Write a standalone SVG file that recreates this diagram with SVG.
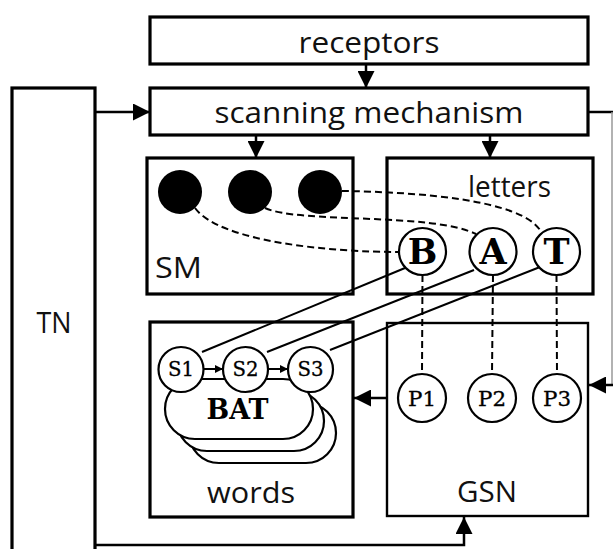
<svg xmlns="http://www.w3.org/2000/svg" width="613" height="549" viewBox="0 0 613 549">
<style>
.box{fill:#fff;stroke:#000;stroke-width:3.2}
.thin{fill:#fff;stroke:#000;stroke-width:2.4}
.lbl{font-family:"Open Sans","Liberation Sans",sans-serif;font-size:29px;fill:#111}
.big{font-family:"DejaVu Serif","Liberation Serif",serif;font-weight:bold;fill:#000}
.mono{font-family:"DejaVu Serif","Liberation Serif",serif;font-size:20px;fill:#000;stroke:#000;stroke-width:0.3}
.circ{fill:#fff;stroke:#000;stroke-width:2.2}
.conn{fill:none;stroke:#000;stroke-width:2.5}
.dash{fill:none;stroke:#000;stroke-width:2;stroke-dasharray:7 4}
.wire{fill:none;stroke:#000;stroke-width:2}
</style>
<defs>
<marker id="ah" viewBox="0 0 10 10" refX="10" refY="5" markerUnits="userSpaceOnUse" markerWidth="17" markerHeight="17" orient="auto">
<path d="M0,0 L10,5 L0,10 z" fill="#000"/>
</marker>
<marker id="sah" viewBox="0 0 10 10" refX="10" refY="5" markerUnits="userSpaceOnUse" markerWidth="8" markerHeight="8" orient="auto">
<path d="M0,0 L10,5 L0,10 z" fill="#000"/>
</marker>
</defs>

<g id="receptors">
<rect class="box" x="150" y="17" width="438" height="47"/>
<text class="lbl" x="369" y="53" text-anchor="middle" textLength="141" lengthAdjust="spacingAndGlyphs">receptors</text>
</g>
<g id="scanning">
<rect class="box" x="150" y="88" width="438" height="47"/>
<text class="lbl" x="369" y="123" text-anchor="middle" textLength="309" lengthAdjust="spacingAndGlyphs">scanning mechanism</text>
</g>
<g id="TN">
<rect class="box" x="12" y="88" width="83" height="470"/>
<text class="lbl" x="54" y="333" text-anchor="middle" textLength="35" lengthAdjust="spacingAndGlyphs">TN</text>
</g>
<g id="SM">
<rect class="box" x="147" y="158" width="206" height="136"/>
<text class="lbl" x="155" y="278" textLength="47" lengthAdjust="spacingAndGlyphs">SM</text>
<circle cx="180" cy="192" r="22" fill="#000"/>
<circle cx="250" cy="192" r="22" fill="#000"/>
<circle cx="320" cy="192" r="22" fill="#000"/>
</g>
<g id="letters">
<rect class="box" x="387" y="158" width="206" height="136"/>
<text class="lbl" x="468" y="197" textLength="83" lengthAdjust="spacingAndGlyphs">letters</text>
</g>
<g id="words">
<rect class="box" x="150" y="322" width="203" height="195"/>
<text class="lbl" x="251" y="503" text-anchor="middle" textLength="88" lengthAdjust="spacingAndGlyphs">words</text>
<rect class="circ" x="189" y="403" width="147" height="60" rx="30"/>
<rect class="circ" x="177" y="391" width="147" height="60" rx="30"/>
<rect class="circ" x="165" y="379" width="148" height="60" rx="30"/>
<text class="big" x="237.5" y="419" font-size="27" text-anchor="middle" textLength="62" lengthAdjust="spacingAndGlyphs">BAT</text>
</g>
<g id="GSN">
<rect class="thin" x="387" y="323" width="201" height="193"/>
<text class="lbl" x="487" y="502" text-anchor="middle" textLength="60" lengthAdjust="spacingAndGlyphs">GSN</text>
</g>

<g id="connectors">
<line class="conn" x1="366" y1="64" x2="366" y2="88" marker-end="url(#ah)"/>
<line class="conn" x1="95" y1="112" x2="150" y2="112" marker-end="url(#ah)"/>
<line class="conn" x1="256" y1="135" x2="256" y2="158" marker-end="url(#ah)"/>
<line class="conn" x1="490" y1="135" x2="490" y2="158" marker-end="url(#ah)"/>
<line class="conn" x1="588" y1="112" x2="613" y2="112"/>
<line x1="612" y1="112" x2="612" y2="385" stroke="#999" stroke-width="1.5"/>
<line class="conn" x1="613" y1="385" x2="589" y2="385" stroke-width="3" marker-end="url(#ah)"/>
<line class="conn" x1="387" y1="398" x2="354" y2="398" marker-end="url(#ah)"/>
<path class="conn" d="M95,545 H464 V517" marker-end="url(#ah)"/>
<path class="dash" d="M195,208 C220,242 330,252 399,252"/>
<path class="dash" d="M265,208 C300,224 430,212 476,234"/>
<path class="dash" d="M342,191 C420,192 520,200 540,230"/>
<line class="dash" x1="422.5" y1="275" x2="422" y2="374"/>
<line class="dash" x1="493" y1="275" x2="492" y2="374"/>
<line class="dash" x1="556.5" y1="275" x2="557" y2="374"/>
<line class="wire" x1="405" y1="268" x2="202" y2="352"/>
<line class="wire" x1="474" y1="270" x2="267" y2="352"/>
<line class="wire" x1="540" y1="267" x2="330" y2="350"/>
<line class="wire" x1="203" y1="369" x2="223" y2="369" stroke-width="1.5" marker-end="url(#sah)"/>
<line class="wire" x1="268" y1="369" x2="288" y2="369" stroke-width="1.5" marker-end="url(#sah)"/>
</g>

<g id="letterB"><circle class="circ" cx="422.5" cy="251.5" r="23.5"/><text class="big" x="422.5" y="264" font-size="35" text-anchor="middle">B</text></g>
<g id="letterA"><circle class="circ" cx="493" cy="251.5" r="23.5"/><text class="big" x="493" y="264" font-size="35" text-anchor="middle">A</text></g>
<g id="letterT"><circle class="circ" cx="556.5" cy="251.5" r="23.5"/><text class="big" x="556.5" y="264" font-size="35" text-anchor="middle">T</text></g>
<g id="S1"><circle class="circ" cx="181" cy="369.5" r="22.5"/><text class="mono" x="181" y="376" text-anchor="middle" textLength="26" lengthAdjust="spacingAndGlyphs">S1</text></g>
<g id="S2"><circle class="circ" cx="245.5" cy="369.5" r="22.5"/><text class="mono" x="245.5" y="376" text-anchor="middle" textLength="26" lengthAdjust="spacingAndGlyphs">S2</text></g>
<g id="S3"><circle class="circ" cx="310.5" cy="369.5" r="22.5"/><text class="mono" x="310.5" y="376" text-anchor="middle" textLength="26" lengthAdjust="spacingAndGlyphs">S3</text></g>
<g id="P1"><circle class="circ" cx="422" cy="398" r="24"/><text class="mono" x="422" y="405.5" text-anchor="middle" textLength="28" lengthAdjust="spacingAndGlyphs">P1</text></g>
<g id="P2"><circle class="circ" cx="492" cy="398" r="24"/><text class="mono" x="492" y="405.5" text-anchor="middle" textLength="28" lengthAdjust="spacingAndGlyphs">P2</text></g>
<g id="P3"><circle class="circ" cx="557" cy="398" r="24"/><text class="mono" x="557" y="405.5" text-anchor="middle" textLength="28" lengthAdjust="spacingAndGlyphs">P3</text></g>
</svg>
